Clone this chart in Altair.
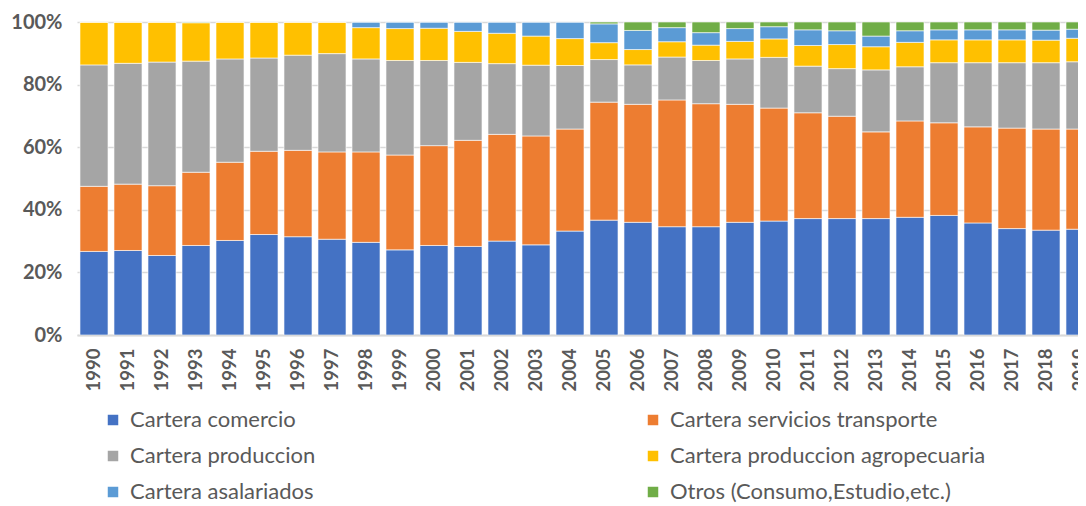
import altair as alt
import pandas as pd

years = [str(y) for y in range(1990, 2020)]
series = [
    "Cartera comercio",
    "Cartera servicios transporte",
    "Cartera produccion",
    "Cartera produccion agropecuaria",
    "Cartera asalariados",
    "Otros (Consumo,Estudio,etc.)",
]
colors = ["#4472C4", "#ED7D31", "#A5A5A5", "#FFC000", "#5B9BD5", "#70AD47"]

comercio = [26.7, 27.0, 25.4, 28.6, 30.2, 32.1, 31.4, 30.6, 29.6, 27.2,
            28.6, 28.3, 30.0, 28.8, 33.2, 36.7, 36.0, 34.6, 34.6, 36.0,
            36.4, 37.2, 37.2, 37.2, 37.6, 38.2, 35.8, 34.0, 33.5, 33.8]
servicios = [20.8, 21.2, 22.3, 23.4, 25.0, 26.6, 27.6, 27.9, 28.9, 30.3,
             31.9, 33.9, 34.1, 34.8, 32.6, 37.7, 37.7, 40.5, 39.3, 37.7,
             36.1, 33.8, 32.7, 27.7, 30.8, 29.6, 30.7, 32.1, 32.3, 32.0]
produccion = [38.8, 38.6, 39.5, 35.5, 33.0, 29.8, 30.4, 31.4, 29.7, 30.2,
              27.2, 24.9, 22.6, 22.6, 20.3, 13.6, 12.6, 13.7, 13.8, 14.5,
              16.2, 14.9, 15.2, 19.8, 17.3, 19.2, 20.5, 20.9, 21.2, 21.5]
agropecuaria = [13.7, 13.2, 12.8, 12.3, 11.8, 11.5, 10.6, 10.1, 10.0, 10.2,
                10.3, 9.9, 9.7, 9.3, 8.6, 5.4, 4.9, 4.9, 4.9, 5.6,
                5.9, 6.6, 7.7, 7.4, 7.8, 7.3, 7.3, 7.3, 7.2, 7.5]
asalariados = [0.0, 0.0, 0.0, 0.0, 0.0, 0.0, 0.0, 0.0, 1.8, 2.1,
               2.0, 3.0, 3.6, 4.5, 5.3, 6.0, 6.1, 4.5, 4.0, 4.1,
               3.9, 5.0, 4.4, 3.4, 3.7, 3.2, 3.2, 3.2, 3.2, 2.9]
otros = [0.0, 0.0, 0.0, 0.2, 0.0, 0.0, 0.0, 0.0, 0.0, 0.0,
         0.0, 0.0, 0.0, 0.0, 0.0, 0.6, 2.7, 1.8, 3.4, 2.1,
         1.5, 2.5, 2.8, 4.5, 2.8, 2.5, 2.5, 2.5, 2.6, 2.3]

# legend is filled column by column: reorder so it reads row by row
legend_order = [0, 2, 4, 1, 3, 5]
legend_domain = [series[i] for i in legend_order]
legend_colors = [colors[i] for i in legend_order]

all_vals = [comercio, servicios, produccion, agropecuaria, asalariados, otros]
rows = []
for si, (name, vals) in enumerate(zip(series, all_vals)):
    for y, v in zip(years, vals):
        rows.append({"year": y, "serie": name, "idx": si, "value": v})
df = pd.DataFrame(rows)

font = "Lato"
gray = "#595959"

chart = (
    alt.Chart(df)
    .mark_bar(stroke="white", strokeWidth=0.6, clip=True)
    .encode(
        x=alt.X(
            "year:N",
            sort=years,
            scale=alt.Scale(paddingInner=0.176, paddingOuter=0.088, range=[0, 1020]),
            axis=alt.Axis(
                title=None,
                labelAngle=-90,
                labelFont=font,
                labelFontSize=18.5,
                labelFontWeight="bold",
                labelColor=gray,
                labelPadding=13,
                ticks=False,
                domainColor="#D9D9D9",
                domainWidth=2,
            ),
        ),
        y=alt.Y(
            "value:Q",
            stack="normalize",
            scale=alt.Scale(domain=[0, 1]),
            axis=alt.Axis(
                title=None,
                values=[0, 0.2, 0.4, 0.6, 0.8, 1.0],
                format=".0%",
                labelFont=font,
                labelFontSize=20,
                labelFontWeight="bold",
                labelColor=gray,
                labelPadding=15,
                ticks=False,
                domain=False,
                gridColor="#D9D9D9",
                gridWidth=1.5,
            ),
        ),
        color=alt.Color(
            "serie:N",
            sort=legend_domain,
            scale=alt.Scale(domain=legend_domain, range=legend_colors),
            legend=alt.Legend(
                title=None,
                orient="none",
                legendX=25,
                legendY=387,
                columns=2,
                columnPadding=326,
                rowPadding=14,
                symbolType="square",
                symbolSize=110,
                symbolStrokeWidth=0,
                labelFont=font,
                labelFontSize=22,
                labelColor=gray,
                labelOffset=6,
                labelLimit=400,
            ),
        ),
        order=alt.Order("idx:Q", sort="ascending"),
    )
    .properties(
        width=1001,
        height=313,
        autosize=alt.AutoSizeParams(type="none"),
        padding={"left": 69, "top": 14, "right": 0, "bottom": 170},
    )
    .configure_view(stroke=None)
)

chart.save("out.html", embed_options={"renderer": "svg", "actions": False})
